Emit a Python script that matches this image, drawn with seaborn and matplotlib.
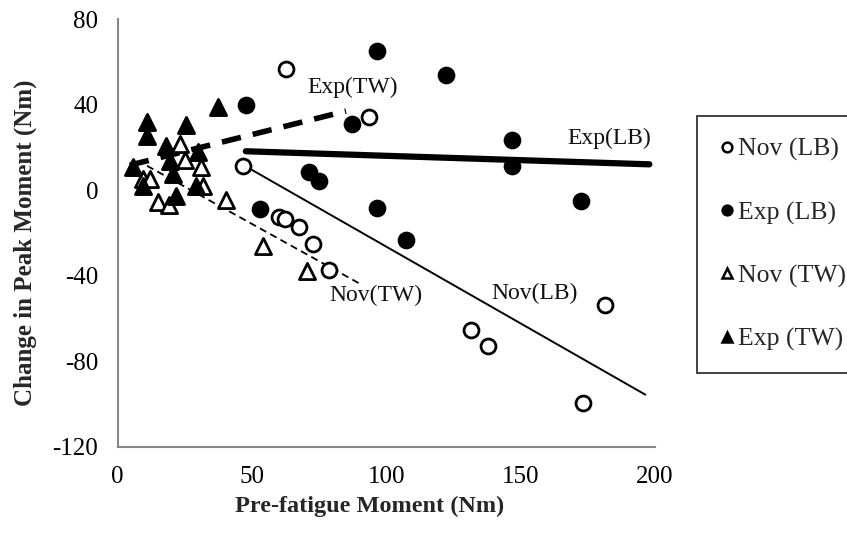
import numpy as np
import pandas as pd
import seaborn as sns
import matplotlib.pyplot as plt
from matplotlib.lines import Line2D

# data (Pre-fatigue moment vs change in peak moment)
nov_lb_x = [46.7, 60.1, 62.2, 62.8, 67.5, 72.7, 78.6, 93.6, 131.7, 137.9, 173.2, 181.4]
nov_lb_y = [11.4, -12.4, -13.5, 56.6, -17.0, -25.1, -37.3, 34.3, -65.2, -73.0, -99.6, -53.5]

exp_lb_x = [47.9, 53.1, 71.1, 75.0, 87.3, 96.7, 96.7, 107.5, 122.2, 147.0, 146.7, 172.4]
exp_lb_y = [39.8, -8.8, 8.3, 4.4, 30.9, 65.2, -8.3, -23.3, 54.0, 23.7, 11.3, -5.2]

nov_tw_x = [9.4, 11.9, 15.0, 19.1, 23.1, 25.0, 31.1, 31.8, 40.4, 54.1, 70.5]
nov_tw_y = [5.2, 5.2, -5.7, -6.8, 21.6, 14.1, 10.7, 2.1, -4.6, -25.9, -37.6]

exp_tw_x = [5.7, 9.4, 10.9, 10.9, 17.9, 19.4, 20.6, 21.8, 25.6, 29.0, 29.9, 37.4]
exp_tw_y = [10.7, 2.1, 31.7, 25.5, 20.8, 13.8, 7.6, -2.6, 30.5, 2.1, 17.7, 38.7]

groups = ['Nov (LB)', 'Exp (LB)', 'Nov (TW)', 'Exp (TW)']
trend_labels = ['Nov(LB)', 'Exp(LB)', 'Nov(TW)', 'Exp(TW)']
# x extent over which each trendline is drawn
trend_span = [(46.7, 196.5), (47.7, 198.0), (10.9, 90.7), (4.5, 85.0)]
# where the trendline names sit
label_x = [155.3, 183.0, 96.3, 87.6]
label_y = [-48.5, 24.0, -49.3, 47.9]

x_ticks = [0, 50, 100, 150, 200]
y_ticks = [-120, -80, -40, 0, 40, 80]

frames = []
for name, xs, ys in zip(groups,
                        [nov_lb_x, exp_lb_x, nov_tw_x, exp_tw_x],
                        [nov_lb_y, exp_lb_y, nov_tw_y, exp_tw_y]):
    frames.append(pd.DataFrame({'x': xs, 'y': ys, 'group': name}))
df = pd.concat(frames, ignore_index=True)

sns.set_theme(style="white")
plt.rcParams['font.family'] = ['Liberation Serif', 'DejaVu Serif']
plt.rcParams['axes.unicode_minus'] = False

fig = plt.figure(figsize=(8.47, 5.33), dpi=100)
ax = fig.add_axes([0.139, 0.162, 0.634, 0.802])

marker_style = {
    'Nov (LB)': dict(marker='o', facecolor='white'),
    'Exp (LB)': dict(marker='o', facecolor='black'),
    'Nov (TW)': dict(marker='^', facecolor='white'),
    'Exp (TW)': dict(marker='^', facecolor='black'),
}
line_style = {
    'Nov (LB)': dict(lw=1.4, ls='-'),
    'Exp (LB)': dict(lw=4.5, ls='-'),
    'Nov (TW)': dict(lw=1.3, ls=(0, (4, 2.5))),
    'Exp (TW)': dict(lw=4.0, ls=(0, (3.5, 2.2))),
}

# trendlines (least squares fit per group)
for name, span in zip(groups, trend_span):
    sub = df[df['group'] == name]
    slope, icpt = np.polyfit(sub['x'], sub['y'], 1)
    xs = np.array(span)
    ax.plot(xs, slope * xs + icpt, color='black', zorder=2,
            solid_capstyle='round', **line_style[name])

for name in groups:
    sub = df[df['group'] == name]
    st = marker_style[name]
    sns.scatterplot(data=sub, x='x', y='y', ax=ax, marker=st['marker'],
                    s=115 if st['marker'] == 'o' else 135,
                    facecolor=st['facecolor'], edgecolor='black',
                    linewidth=2.0, legend=False, zorder=3)

for txt, lx, ly in zip(trend_labels, label_x, label_y):
    ax.text(lx, ly, txt, ha='center', va='center', fontsize=17, color='#111111')

ax.set_xlim(0, 200)
ax.set_ylim(-120, 80)
ax.set_xticks(x_ticks)
ax.set_yticks(y_ticks)
ax.tick_params(axis='both', labelsize=18, labelcolor='black', color='#888888',
               length=6, width=1.2, direction='out', pad=8)
for side in ['top', 'right']:
    ax.spines[side].set_visible(False)
for side in ['left', 'bottom']:
    ax.spines[side].set_color('#888888')
    ax.spines[side].set_linewidth(1.5)

ax.set_xlabel('Pre-fatigue Moment (Nm)', fontsize=17.5, fontweight='bold')
ax.set_ylabel('Change in Peak Moment (Nm)', fontsize=18, fontweight='bold')
ax.xaxis.set_label_coords(0.469, -0.115)
ax.yaxis.set_label_coords(-0.151, 0.477)

handles = [Line2D([], [], ls='none', marker=marker_style[g]['marker'], markersize=7,
                  markerfacecolor=marker_style[g]['facecolor'], markeredgecolor='black',
                  markeredgewidth=1.8) for g in groups]
leg = fig.legend(handles, groups, loc='upper left', bbox_to_anchor=(0.823, 0.782),
                 fontsize=18.5, frameon=True, fancybox=False, edgecolor='black',
                 handletextpad=0.15, labelspacing=1.55, borderpad=0.85,
                 handlelength=0.6, borderaxespad=0)
leg.get_frame().set_linewidth(1.3)

fig.savefig('out.png', dpi=100)
